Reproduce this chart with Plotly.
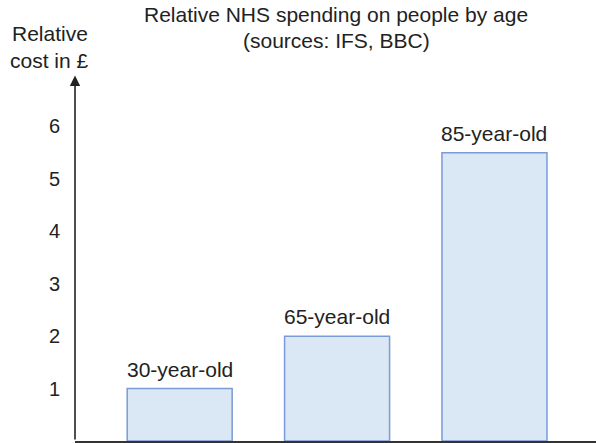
import plotly.graph_objects as go

categories = ["30-year-old", "65-year-old", "85-year-old"]
values = [1.0, 2.0, 5.5]
tick_vals = [1, 2, 3, 4, 5, 6]
tick_labels = ["1", "2", "3", "4", "5", "6"]
title_lines = ["Relative NHS spending on people by age", "(sources: IFS, BBC)"]
ylabel_lines = ["Relative", "cost in £"]

xpos = list(range(len(categories)))
FONT = "Liberation Sans, Arial, sans-serif"
TXT = "#222"

fig = go.Figure()
fig.add_trace(go.Bar(
    x=xpos, y=values, width=0.667,
    marker=dict(color="#dae7f5", line=dict(color="#7b9bd6", width=1.5)),
    hoverinfo="skip",
))

for xi, v, c in zip(xpos, values, categories):
    fig.add_annotation(x=xi, y=v, text=c, showarrow=False, xref="x", yref="y",
                       yanchor="bottom", yshift=6,
                       font=dict(family=FONT, size=21, color=TXT))

# y-axis arrow
fig.add_annotation(x=-0.665, y=6.97, ax=-0.665, ay=0, xref="x", yref="y",
                   axref="x", ayref="y", text="", showarrow=True,
                   arrowhead=2, arrowsize=1.3, arrowwidth=1.6, arrowcolor="#222")

# title lines
for txt, yp in zip(title_lines, [1.163, 1.090]):
    fig.add_annotation(x=0.501, y=yp, xref="paper", yref="paper", text=txt,
                       showarrow=False, xanchor="center", yanchor="middle",
                       font=dict(family=FONT, size=21, color=TXT))

# y-axis label lines
for txt, yp in zip(ylabel_lines, [1.109, 1.036]):
    fig.add_annotation(x=-0.048, y=yp, xref="paper", yref="paper", text=txt,
                       showarrow=False, xanchor="center", yanchor="middle",
                       font=dict(family=FONT, size=21, color=TXT))

fig.update_layout(
    width=596, height=443,
    margin=dict(l=75, r=0, t=74, b=2),
    paper_bgcolor="white", plot_bgcolor="white",
    showlegend=False,
    xaxis=dict(range=[-0.665, 2.645], showticklabels=False, showgrid=False,
               zeroline=False, showline=True, linecolor="#333", linewidth=2,
               ticks="", fixedrange=True),
    yaxis=dict(range=[0, 7], tickvals=tick_vals, ticktext=tick_labels,
               showgrid=False, zeroline=False, showline=False,
               ticks="", ticklabelstandoff=14,
               tickfont=dict(family=FONT, size=20, color=TXT), fixedrange=True),
)

fig.write_html("out.html")
